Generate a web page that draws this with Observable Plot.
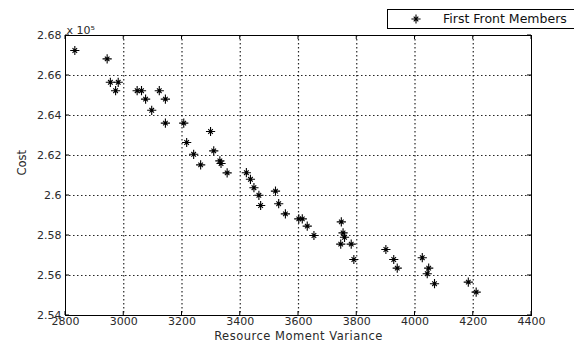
<!DOCTYPE html>
<html><head><meta charset="utf-8">
<script src="https://cdn.jsdelivr.net/npm/d3@7"></script>
<script src="https://cdn.jsdelivr.net/npm/@observablehq/plot@0.6"></script>
<style>
body{margin:0;background:#fff;}
#wrap{position:relative;width:574px;height:342px;overflow:hidden;font-family:"DejaVu Sans",sans-serif;background:#fff;}
#legend{position:absolute;left:387px;top:9px;width:192px;height:20px;border:1px solid #000;box-sizing:border-box;background:#fff;color:#111;font-size:12.5px;}
#legend svg{position:absolute;left:21px;top:2px;}
#legend span{position:absolute;left:55px;top:1px;white-space:nowrap;}
</style></head><body><div id="wrap"><div id="legend"><svg width="14" height="14"></svg><span>First Front Members</span></div></div>
<script>
const seriesName = "First Front Members";
const resourceMomentVariance = [2832, 2943, 2954, 2981, 2972, 3046, 3061, 3075, 3122, 3143, 3096, 3143, 3206, 3298, 3216, 3240, 3309, 3264, 3330, 3334, 3355, 3421, 3435, 3447, 3464, 3470, 3521, 3532, 3555, 3601, 3613, 3630, 3653, 3747, 3753, 3758, 3745, 3781, 3790, 3900, 3927, 3939, 4025, 4047, 4042, 4067, 4183, 4210];
const costE5 = [2.6725, 2.6683, 2.6566, 2.6566, 2.6524, 2.6524, 2.6524, 2.6482, 2.6524, 2.6482, 2.6426, 2.6362, 2.6362, 2.6320, 2.6265, 2.6206, 2.6223, 2.6153, 2.6173, 2.6160, 2.6113, 2.6114, 2.6081, 2.6039, 2.6001, 2.5950, 2.6022, 2.5959, 2.5908, 2.5883, 2.5883, 2.5847, 2.5800, 2.5868, 2.5813, 2.5791, 2.5757, 2.5757, 2.5680, 2.5730, 2.5680, 2.5637, 2.5689, 2.5637, 2.5609, 2.5559, 2.5567, 2.5517];
const xTicks = [2800, 3000, 3200, 3400, 3600, 3800, 4000, 4200, 4400];
const yTicks = [2.54, 2.56, 2.58, 2.60, 2.62, 2.64, 2.66, 2.68];
const xLabel = "Resource Moment Variance";
const yLabel = "Cost";
const exponentLabel = "x 10\u2075";

const data = resourceMomentVariance.map((x, i) => ({x, y: costE5[i]}));

const star = {draw(ctx, size) {
  const r = Math.sqrt(size / Math.PI), d = r * 0.5;
  ctx.moveTo(-r, 0); ctx.lineTo(r, 0);
  ctx.moveTo(0, -r); ctx.lineTo(0, r);
  ctx.moveTo(-d, -d); ctx.lineTo(d, d);
  ctx.moveTo(-d, d); ctx.lineTo(d, -d);
}};

const fmtY = d => String(+d.toFixed(2));
const innerX = xTicks.slice(1, -1), innerY = yTicks.slice(1, -1);

const chart = Plot.plot({
  width: 574, height: 342,
  marginLeft: 65, marginRight: 43, marginTop: 35, marginBottom: 27,
  style: {fontFamily: "'DejaVu Sans', sans-serif", fontSize: "11px", color: "#2a2a2a", background: "transparent"},
  x: {domain: [2800, 4400], ticks: xTicks, label: null},
  y: {domain: [2.54, 2.68], ticks: yTicks, label: null},
  marks: [
    Plot.ruleX(innerX, {x: d => d, stroke: "#000", strokeWidth: 1.2, strokeDasharray: "1.5,2.5", strokeOpacity: 0.85}),
    Plot.ruleY(innerY, {y: d => d, stroke: "#000", strokeWidth: 1.2, strokeDasharray: "1.5,2.5", strokeOpacity: 0.85}),
    Plot.axisX(xTicks, {anchor: "bottom", tickSize: 0, tickPadding: 2, tickFormat: d => String(d), fontSize: 11, label: null}),
    Plot.axisY(yTicks, {anchor: "left", tickSize: 0, tickPadding: 4, tickFormat: fmtY, fontSize: 11, label: null}),
    Plot.frame({stroke: "#000", strokeWidth: 1}),
    Plot.dot(data, {x: "x", y: "y", symbol: star, r: 4.6, stroke: "#000", strokeWidth: 1.1, fill: "none"}),
    Plot.text([xLabel], {frameAnchor: "bottom", dy: 24, fontSize: 11.5, fill: "#2a2a2a", className: "xtitle"}),
    Plot.text([yLabel], {frameAnchor: "left", dx: -43, rotate: -90, fontSize: 11.5, fill: "#2a2a2a"}),
    Plot.text([exponentLabel], {frameAnchor: "top-left", textAnchor: "start", dx: 1, dy: -9, fontSize: 11, fill: "#2a2a2a"})
  ]
});
document.getElementById("wrap").prepend(chart);
d3.select(chart).selectAll(".xtitle text").style("letter-spacing", "0.5px");

// inward tick marks on all four sides (MATLAB style), drawn through the plot scales
const sx = chart.scale("x"), sy = chart.scale("y");
const svg = d3.select(chart);
const L = 65, R = 574 - 43, T = 35, B = 342 - 27, ts = 4;
const g = svg.append("g").attr("stroke", "#000").attr("stroke-width", 1);
xTicks.forEach(v => { const px = sx.apply(v);
  g.append("line").attr("x1", px).attr("x2", px).attr("y1", B).attr("y2", B - ts);
  g.append("line").attr("x1", px).attr("x2", px).attr("y1", T).attr("y2", T + ts); });
yTicks.forEach(v => { const py = sy.apply(v);
  g.append("line").attr("y1", py).attr("y2", py).attr("x1", L).attr("x2", L + ts);
  g.append("line").attr("y1", py).attr("y2", py).attr("x1", R).attr("x2", R - ts); });

// legend marker
const ls = d3.select("#legend svg");
ls.append("path").attr("transform", "translate(7,7)")
  .attr("d", d3.symbol(star, 4.6 * 4.6 * Math.PI)()).attr("stroke", "#000").attr("stroke-width", 1.1).attr("fill", "none");
</script></body></html>
